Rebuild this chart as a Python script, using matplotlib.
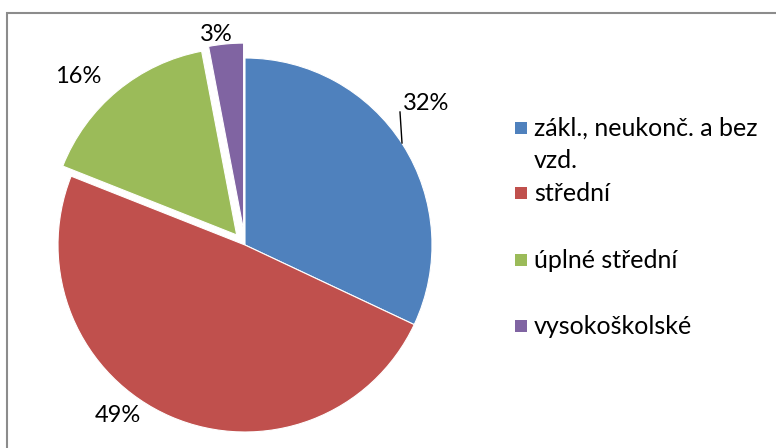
import matplotlib.pyplot as plt
from matplotlib.patches import Rectangle

# data
kategorie = ['zákl., neukonč. a bez\nvzd.', 'střední', 'úplné střední', 'vysokoškolské']
podily = [32, 49, 16, 3]
barvy = ['#4F81BD', '#C0504D', '#9BBB59', '#8064A2']
vysunuti = [0, 0, 0.07, 0.08]

W, H = 776, 448
plt.rcParams['font.family'] = ['Lato', 'DejaVu Sans']
FS = 17

fig = plt.figure(figsize=(W / 100, H / 100), dpi=100)
ax = fig.add_axes([0, 0, 1, 1])

cx, cy, r = 245, H - 245, 187
# explode v matplotlibu neni skalovano polomerem -> prepocet na pixely
wedges, _ = ax.pie(podily, colors=barvy, startangle=90, counterclock=False,
                   center=(cx, cy), radius=r, explode=[e * r for e in vysunuti],
                   wedgeprops=dict(edgecolor='white', linewidth=0.8))

ax.set_xlim(0, W)
ax.set_ylim(0, H)
ax.set_aspect('equal')
ax.axis('off')

# ramecek grafu (pravy a dolni okraj je oriznuty)
ax.add_patch(Rectangle((7, -10), W + 20, H - 13 + 10, fill=False,
                       edgecolor='#8c8c8c', linewidth=1.5))

# popisky procent (pozice dle reference)
pozice_popisku = [(426, 103), (118, 416), (78, 76), (216, 34)]
for p, (x, y) in zip(podily, pozice_popisku):
    ax.text(x, H - y, f'{p}%', fontsize=FS, ha='center', va='center', color='black')
ax.plot([402, 400], [H - 143, H - 112], color='black', linewidth=1)

# legenda
legenda_y = [128, 193, 260, 326]
for lab, col, y in zip(kategorie, barvy, legenda_y):
    ax.add_patch(Rectangle((515, H - y - 6), 12, 12, facecolor=col, edgecolor='none'))
    radky = lab.split('\n')
    for i, radek in enumerate(radky):
        ax.text(534, H - y - 32 * i, radek, fontsize=18, ha='left', va='center')

fig.savefig('out.png', dpi=100)
